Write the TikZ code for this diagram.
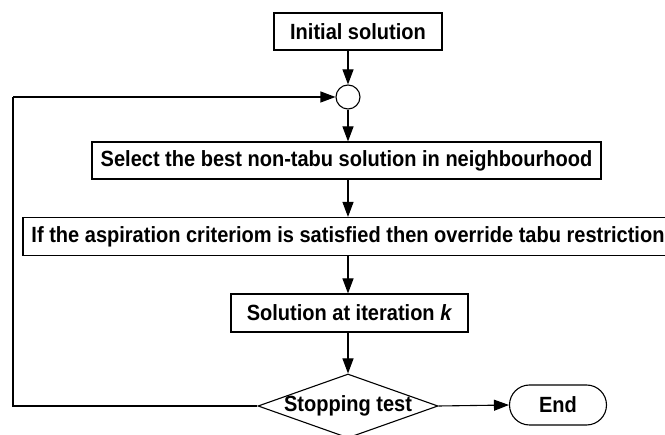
\documentclass[tikz,border=0pt]{standalone}
\usepackage{fontspec}
\setmainfont{Liberation Sans}[FakeStretch=0.91]
\usetikzlibrary{shapes.geometric,shapes.misc,arrows.meta}
\begin{document}
\begin{tikzpicture}[x=1pt,y=-1pt,
  every node/.style={font=\fontsize{22}{24}\selectfont\bfseries},
  boxnode/.style={draw,line width=1.1pt,inner sep=0pt},
  arr/.style={line width=1.1pt,-{Triangle[length=15pt,width=11pt]}},
  ln/.style={line width=1.1pt}]
\useasboundingbox (0,0) rectangle (665,435);
\node[boxnode,minimum width=168pt,minimum height=37pt] (init) at (358,31.5) {Initial solution};
\node[draw,line width=1.1pt,circle,minimum size=24pt,inner sep=0pt] (c) at (348,97) {};
\node[boxnode,minimum width=509pt,minimum height=37pt] (sel) at (346.5,160.5) {Select the best non-tabu solution in neighbourhood};
\node[boxnode,minimum width=650pt,minimum height=38pt] (asp) at (348,236.5) {If the aspiration criteriom is satisfied then override tabu restriction};
\node[boxnode,minimum width=237pt,minimum height=38pt] (sol) at (349.5,313) {Solution at iteration \textit{k}};
\node[draw,line width=1.1pt,diamond,minimum width=180pt,minimum height=64pt,inner sep=0pt,
  label={[font=\fontsize{22}{24}\selectfont\bfseries]center:Stopping test}] (st) at (348,406) {};
\node[draw,line width=1.1pt,rounded rectangle,minimum width=97pt,minimum height=40pt,inner sep=0pt] (end) at (558,405) {End};
\coordinate (cl) at (13,406);
\coordinate (tl) at (13,97);
\draw[arr] (init.south -| c) -- (c.north);
\draw[arr] (c.south) -- (sel.north -| c);
\draw[arr] (sel.south -| c) -- (asp.north -| c);
\draw[arr] (asp.south -| c) -- (sol.north -| c);
\draw[arr] (sol.south -| c) -- (st.north);
\draw[arr] (st.east) -- (end.west);
\draw[ln] (st.west) -- (cl) -- (tl);
\draw[arr] (tl) -- (c.west);
\end{tikzpicture}
\end{document}
